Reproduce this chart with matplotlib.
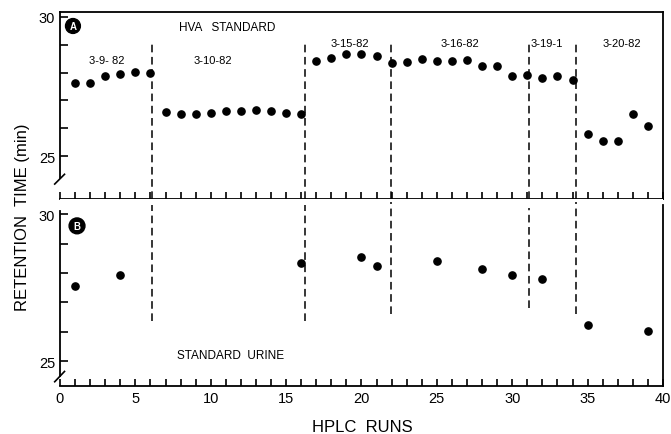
import numpy as np
import matplotlib.pyplot as plt

plt.rcParams['font.family'] = ['Liberation Sans', 'DejaVu Sans']

# HVA standard, every run
runs_std = list(range(1, 40))
rt_std = [27.61, 27.61, 27.88, 27.95, 28.03, 27.99,
          26.57, 26.51, 26.51, 26.54, 26.63, 26.61, 26.65, 26.62, 26.55, 26.51,
          28.42, 28.52, 28.66, 28.66, 28.60,
          28.36, 28.38, 28.48, 28.42, 28.42, 28.46, 28.22, 28.22,
          27.88, 27.90, 27.80, 27.86, 27.72,
          25.79, 25.55, 25.54, 26.51, 26.09]

# standard urine
runs_urine = [1, 4, 16, 20, 21, 25, 28, 30, 32, 35, 39]
rt_urine = [27.56, 27.93, 28.33, 28.55, 28.24, 28.39, 28.15, 27.93, 27.79, 26.22, 26.03]

# day boundaries
day_breaks = [6.1, 16.25, 21.95, 31.1, 34.25]
day_names = ["3-9- 82", "3-10-82", "3-15-82", "3-16-82", "3-19-1", "3-20-82"]
day_x = [3.1, 10.15, 19.2, 26.5, 32.3, 37.3]
day_y = [28.45, 28.45, 29.06, 29.06, 29.06, 29.06]
# how far the dashed lines reach in panel B
break_low_b = [26.35, 26.35, 26.6, 26.8, 26.6]
break_high_b = [30.3, 30.3, 30.4, 30.2, 30.4]

fig = plt.figure(figsize=(6.71, 4.35), dpi=100)
ax1 = fig.add_axes([0.0894, 0.540, 0.8986, 0.430])
ax2 = fig.add_axes([0.0894, 0.110, 0.8986, 0.430])

for ax in (ax1, ax2):
    ax.set_xlim(0, 40)
    ax.set_xticks(np.arange(0, 41, 1), minor=True)
    ax.set_xticks(np.arange(0, 41, 5))
    ax.set_yticks([25, 30])
    ax.set_yticks([26, 27, 28, 29], minor=True)
    ax.tick_params(which='both', direction='in', length=6, width=1.2, labelsize=10.5)
    ax.tick_params(axis='x', which='both', length=5)
    for s in ax.spines.values():
        s.set_linewidth(1.3)

ax1.set_ylim(23.46, 30.17)
ax2.set_ylim(24.15, 30.51)

ax1.spines['left'].set_bounds(24.2, 30.17)
ax2.spines['left'].set_bounds(24.5, 30.1)
ax2.spines['right'].set_bounds(24.15, 30.3)
ax2.spines['top'].set_visible(False)
ax1.tick_params(axis='x', labelbottom=False)

# small break marks on the y axes
ax1.plot([-0.35, 0.3], [24.0, 24.35], color='black', lw=1.2, clip_on=False)
ax2.plot([-0.35, 0.3], [24.3, 24.65], color='black', lw=1.2, clip_on=False)

ax1.plot(runs_std, rt_std, 'o', color='black', ms=5.2)
ax2.plot(runs_urine, rt_urine, 'o', color='black', ms=5.2)

for xb, lo, hi in zip(day_breaks, break_low_b, break_high_b):
    ax1.plot([xb, xb], [23.46, 29.1], color='black', lw=1.1, ls=(0, (5, 3)))
    ax2.plot([xb, xb], [lo, hi], color='black', lw=1.1, ls=(0, (5, 3)))

for name, x, y in zip(day_names, day_x, day_y):
    ax1.text(x, y, name, ha='center', va='center', fontsize=8)

ax1.text(11.07, 29.63, "HVA   STANDARD", ha='center', va='center', fontsize=8.5)
ax2.text(11.3, 25.2, "STANDARD  URINE", ha='center', va='center', fontsize=8.5)

ax1.text(0.86, 29.67, "A", ha='center', va='center', fontsize=7, color='white',
         fontweight='bold', bbox=dict(boxstyle='circle,pad=0.25', fc='black', ec='black'))
ax2.text(1.13, 29.6, "B", ha='center', va='center', fontsize=7, color='white',
         fontweight='bold', bbox=dict(boxstyle='circle,pad=0.3', fc='black', ec='black'))

fig.text(0.033, 0.50, "RETENTION  TIME (min)", rotation=90, ha='center', va='center', fontsize=12)
fig.text(0.54, 0.018, "HPLC  RUNS", ha='center', va='center', fontsize=12)

fig.savefig("out.png", dpi=100)
